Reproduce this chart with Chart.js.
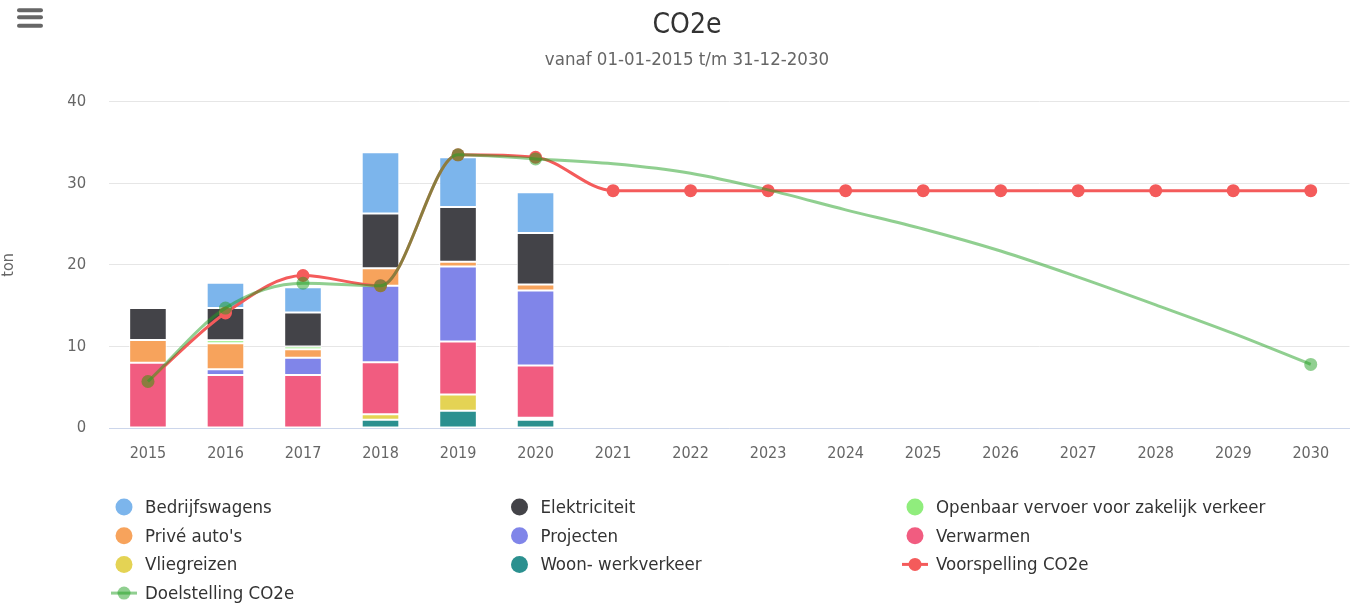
<!DOCTYPE html>
<html><head><meta charset="utf-8">
<script src="https://cdn.jsdelivr.net/npm/chart.js@4.4.1/dist/chart.umd.min.js"></script>
<style>html,body{margin:0;padding:0;background:#fff;overflow:hidden}</style>
</head><body>
<canvas id="c" width="1356" height="607"></canvas>
<script>
const years = ['2015','2016','2017','2018','2019','2020','2021','2022','2023','2024','2025','2026','2027','2028','2029','2030'];
const bedrijfswagens = [null, 3.1, 3.1, 7.5, 6.1, 5.0, null, null, null, null, null, null, null, null, null, null];
const elektriciteit  = [3.9, 3.95, 4.15, 6.7, 6.7, 6.3, null, null, null, null, null, null, null, null, null, null];
const openbaarVervoer = [null, 0.35, 0.35, null, null, null, null, null, null, null, null, null, null, null, null, null];
const priveAutos     = [2.8, 3.2, 1.05, 2.15, 0.6, 0.75, null, null, null, null, null, null, null, null, null, null];
const projecten      = [null, 0.7, 2.1, 9.4, 9.2, 9.2, null, null, null, null, null, null, null, null, null, null];
const verwarmen      = [8.0, 6.5, 6.5, 6.35, 6.5, 6.4, null, null, null, null, null, null, null, null, null, null];
const vliegreizen    = [null, null, null, 0.7, 2.0, 0.25, null, null, null, null, null, null, null, null, null, null];
const woonWerk       = [null, null, null, 1.0, 2.1, 1.0, null, null, null, null, null, null, null, null, null, null];
const voorspelling   = [5.7, 14.1, 18.7, 17.45, 33.5, 33.2, 29.1, 29.1, 29.1, 29.1, 29.1, 29.1, 29.1, 29.1, 29.1, 29.1];
const doelstelling   = [5.7, 14.7, 17.75, 17.45, 33.5, 33.0, 32.4, 31.25, 29.2, 26.75, 24.4, 21.7, 18.5, 15.1, 11.6, 7.8];
const doelMarkers    = [true, true, true, true, true, true, false, false, false, false, false, false, false, false, false, true];
const yTicks = [0, 10, 20, 30, 40];

const FONT = "'DejaVu Sans Condensed', 'DejaVu Sans', sans-serif";
const GREEN_LINE = 'rgba(34,160,34,0.5)';

function barSet(label, data, color, order) {
  return { type: 'bar', label, data, backgroundColor: color, borderColor: '#ffffff', borderWidth: 1,
           borderSkipped: false, order, categoryPercentage: 1, barPercentage: 0.485 };
}

const menuIcon = {
  id: 'menuIcon',
  afterDraw(chart) {
    const ctx = chart.ctx;
    ctx.save();
    ctx.strokeStyle = '#666666'; ctx.lineWidth = 4; ctx.lineCap = 'round';
    [10.3, 17.3, 25.8].forEach(y => { ctx.beginPath(); ctx.moveTo(19, y); ctx.lineTo(41, y); ctx.stroke(); });
    ctx.restore();
  }
};

const gridLegend = {
  id: 'gridLegend',
  afterDraw(chart, args, o) {
    const ctx = chart.ctx;
    chart.data.datasets.forEach((ds, i) => {
      const col = i % o.columns, row = Math.floor(i / o.columns);
      const cx = o.x + col * o.colWidth, cy = o.y + row * o.rowHeight;
      ctx.save();
      if (ds.type === 'line') {
        ctx.strokeStyle = ds.borderColor; ctx.lineWidth = 3;
        ctx.beginPath(); ctx.moveTo(cx - 13, cy); ctx.lineTo(cx + 13, cy); ctx.stroke();
        ctx.fillStyle = ds.pointBackgroundColor;
        ctx.beginPath(); ctx.arc(cx, cy, 6.5, 0, Math.PI * 2); ctx.fill();
      } else {
        ctx.fillStyle = ds.backgroundColor;
        ctx.beginPath(); ctx.arc(cx, cy, 8.5, 0, Math.PI * 2); ctx.fill();
      }
      ctx.fillStyle = '#333333';
      ctx.font = '18.5px ' + FONT;
      ctx.textBaseline = 'middle';
      ctx.fillText(ds.label, cx + 21, cy + 1);
      ctx.restore();
    });
  }
};

new Chart(document.getElementById('c'), {
  data: {
    labels: years,
    datasets: [
      barSet('Bedrijfswagens', bedrijfswagens, '#7cb5ec', 10),
      barSet('Elektriciteit', elektriciteit, '#434348', 9),
      barSet('Openbaar vervoer voor zakelijk verkeer', openbaarVervoer, '#90ed7d', 8),
      barSet("Privé auto's", priveAutos, '#f7a35c', 7),
      barSet('Projecten', projecten, '#8085e9', 6),
      barSet('Verwarmen', verwarmen, '#f15c80', 5),
      barSet('Vliegreizen', vliegreizen, '#e4d354', 4),
      barSet('Woon- werkverkeer', woonWerk, '#2b908f', 3),
      { type: 'line', label: 'Voorspelling CO2e', data: voorspelling, stack: 'voorspelling', order: 1,
        borderColor: '#f45b5b', backgroundColor: '#f45b5b', pointBackgroundColor: '#f45b5b',
        borderWidth: 3, pointRadius: 6.5, pointBorderWidth: 0, cubicInterpolationMode: 'monotone', fill: false },
      { type: 'line', label: 'Doelstelling CO2e', data: doelstelling, stack: 'doelstelling', order: 0,
        borderColor: GREEN_LINE, backgroundColor: GREEN_LINE, pointBackgroundColor: GREEN_LINE,
        borderWidth: 3, pointRadius: doelMarkers.map(m => m ? 6.5 : 0), pointBorderWidth: 0,
        cubicInterpolationMode: 'monotone', fill: false }
    ]
  },
  options: {
    responsive: false,
    devicePixelRatio: 1,
    animation: false,
    events: [],
    layout: { padding: { left: 24, right: 6, top: 0, bottom: 137 } },
    plugins: {
      legend: { display: false },
      tooltip: { enabled: false },
      title: { display: true, text: 'CO2e', color: '#333333', font: { family: FONT, size: 28, weight: 'normal' },
               padding: { top: 9, bottom: 0 } },
      subtitle: { display: true, text: 'vanaf 01-01-2015 t/m 31-12-2030', color: '#666666',
                  font: { family: FONT, size: 18.5, weight: 'normal' }, padding: { top: 6, bottom: 31 } },
      gridLegend: { columns: 3, x: 124, y: 507, colWidth: 395.5, rowHeight: 28.7 }
    },
    scales: {
      x: {
        stacked: true,
        grid: { display: false },
        border: { display: true, color: '#ccd6eb', width: 1 },
        ticks: { color: '#666666', font: { family: FONT, size: 16 }, padding: 8, maxRotation: 0 },
        afterFit(s) { s.height = 42; }
      },
      y: {
        stacked: true,
        min: 0, max: 40,
        afterBuildTicks(s) { s.ticks = yTicks.map(v => ({ value: v })); },
        grid: { color: '#e6e6e6', lineWidth: 1, drawTicks: false },
        border: { display: false },
        ticks: { color: '#666666', font: { family: FONT, size: 16.5 }, padding: 23 },
        title: { display: true, text: 'ton', color: '#666666', font: { family: FONT, size: 16 },
                 padding: { top: -25, bottom: 0 } },
        afterFit(s) { s.width = 85.2; }
      }
    }
  },
  plugins: [menuIcon, gridLegend]
});
</script>
</body></html>
